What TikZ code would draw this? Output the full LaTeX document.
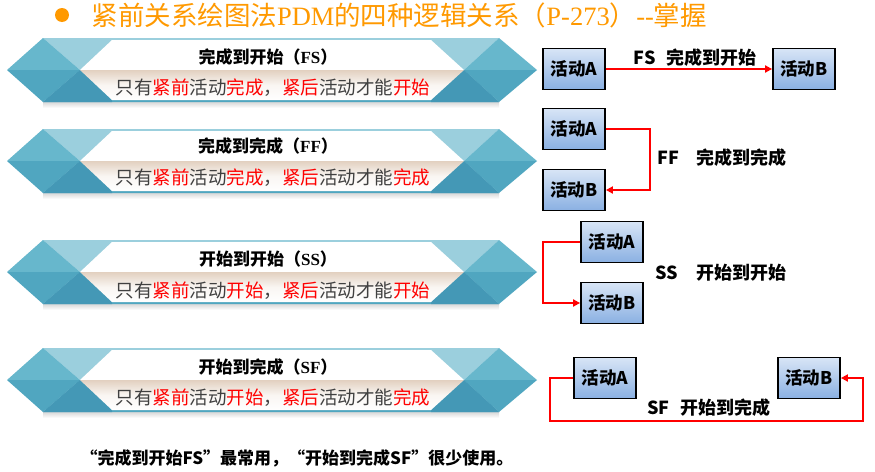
\documentclass[tikz,border=0pt]{standalone}
\usepackage{fontspec}
\setmainfont{Liberation Serif}
\newfontfamily\cjk{Noto Sans CJK SC}
\usetikzlibrary{arrows.meta}

\definecolor{arancio}{RGB}{255,153,0}
\definecolor{rosso}{RGB}{255,0,0}
\definecolor{grigiotesto}{RGB}{64,64,64}
\definecolor{bluchiaro}{RGB}{155,207,221}
\definecolor{blumedio}{RGB}{103,183,204}
\definecolor{bluscuro}{RGB}{80,166,192}
\definecolor{bluprofondo}{RGB}{68,152,182}
\definecolor{beige}{RGB}{226,208,192}
\definecolor{scatolasu}{RGB}{216,229,246}
\definecolor{scatolagiu}{RGB}{138,176,226}

\begin{document}
\begin{tikzpicture}[
			x=1pt, y=-1pt,
			freccia/.style={draw=rosso, line width=2.2pt,
				-{Triangle[length=7pt,width=7pt]}},
			scatola/.style={draw=black, line width=1.8pt,
				top color=scatolasu, bottom color=scatolagiu,
				minimum width=62pt, minimum height=41pt, inner sep=0pt,
				font=\cjk\bfseries\fontsize{17.5}{20}\selectfont},
			etichetta/.style={font=\cjk\bfseries\fontsize{18}{21}\selectfont},
			titolo/.style={font=\cjk\bfseries\fontsize{17}{19}\selectfont},
			sotto/.style={text=grigiotesto,
				font=\cjk\fontsize{18.5}{20}\selectfont},
			]
			\useasboundingbox (0,0) rectangle (875,471);
			
			%% intestazione
			\node[circle, fill=arancio, inner sep=0pt, minimum size=14pt] (punto) at (62,15){};
			\node[anchor=west, text=arancio, font=\cjk\fontsize{26.5}{29}\selectfont] (intesta) at (88,15)
			{紧前关系绘图法{\rmfamily PDM}的四种逻辑关系（{\rmfamily P-273}）{\rmfamily -{}-}掌握};
			
			%% fasce a sinistra
			\foreach \c in {70,161,272,380}{
				% ombra
				\shade[top color=gray!30, bottom color=white] (43,\c+32) rectangle (499,\c+38);
				% fondo
				\fill[bluchiaro] (43,\c-32) -- (499,\c-32) -- (464,\c) -- (80,\c) -- cycle;
				\fill[bluscuro] (80,\c) -- (464,\c) -- (499,\c+32) -- (43,\c+32) -- cycle;
				% punta sinistra
				\fill[blumedio] (7,\c) -- (43,\c-32) -- (80,\c) -- cycle;
				\fill[bluscuro] (7,\c) -- (80,\c) -- (43,\c+32) -- cycle;
				\fill[bluprofondo] (43,\c+32) -- (80,\c) -- (112,\c+30) -- (112,\c+32) -- cycle;
				% punta destra
				\fill[blumedio] (537,\c) -- (499,\c-32) -- (464,\c) -- cycle;
				\fill[bluscuro] (537,\c) -- (464,\c) -- (499,\c+32) -- cycle;
				\fill[bluprofondo] (499,\c+32) -- (464,\c) -- (431,\c+30) -- (431,\c+32) -- cycle;
				% interno
				\fill[white] (80,\c) -- (112,\c-30) -- (431,\c-30) -- (464,\c) -- cycle;
				\shade[top color=beige, bottom color=white, middle color=white!80!beige]
				(80,\c) -- (464,\c) -- (431,\c+30) -- (112,\c+30) -- cycle;
			}
			
			% testi delle fasce
			\node[titolo] (tfs) at (268,57){完成到开始（{\rmfamily FS}）};
			\node[sotto]  (sfs) at (273,88){只有\textcolor{rosso}{紧前}活动\textcolor{rosso}{完成}，\textcolor{rosso}{紧后}活动才能\textcolor{rosso}{开始}};
			\node[titolo] (tff) at (268,146){完成到完成（{\rmfamily FF}）};
			\node[sotto]  (sff) at (273,178){只有\textcolor{rosso}{紧前}活动\textcolor{rosso}{完成}，\textcolor{rosso}{紧后}活动才能\textcolor{rosso}{完成}};
			\node[titolo] (tss) at (268,259){开始到开始（{\rmfamily SS}）};
			\node[sotto]  (sss) at (273,291){只有\textcolor{rosso}{紧前}活动\textcolor{rosso}{开始}，\textcolor{rosso}{紧后}活动才能\textcolor{rosso}{开始}};
			\node[titolo] (tsf) at (268,367){开始到完成（{\rmfamily SF}）};
			\node[sotto]  (ssf) at (273,398){只有\textcolor{rosso}{紧前}活动\textcolor{rosso}{开始}，\textcolor{rosso}{紧后}活动才能\textcolor{rosso}{完成}};
			
			%% FS
			\node[scatola] (fsA) at (574,69){活动A};
			\node[scatola] (fsB) at (804,69){活动B};
			\draw[freccia] (fsA.east) -- (fsB.west);
			\node[etichetta] (lfs) at (695,58){FS\hspace{0.6em}完成到开始};
			
			%% FF
			\node[scatola] (ffA) at (574,129){活动A};
			\node[scatola] (ffB) at (574,190){活动B};
			\draw[freccia] (ffA.east) -- ++(44,0) |- (ffB.east);
			\node[etichetta] (lff) at (722,158){FF\hspace{1em}完成到完成};
			
			%% SS
			\node[scatola] (ssA) at (612,242){活动A};
			\node[scatola] (ssB) at (612,303){活动B};
			\draw[freccia] (ssA.west) -- ++(-37,0) |- (ssB.west);
			\node[etichetta] (lss) at (721,273){SS\hspace{1em}开始到开始};
			
			%% SF
			\node[scatola] (sfA) at (605,378){活动A};
			\node[scatola] (sfB) at (809,378){活动B};
			\coordinate (sfG1) at (550,421);
			\coordinate (sfG2) at (863,421);
			\draw[freccia] (sfA.west) -| (sfG1) -- (sfG2) |- (sfB.east);
			\node[etichetta] (lsf) at (709,408){SF\hspace{0.6em}开始到完成};
			
			%% nota
			\node[font=\cjk\bfseries\fontsize{17}{19}\selectfont] (nota) at (297,458)
			{“完成到开始FS”最常用，“开始到完成SF”很少使用。};
			
		\end{tikzpicture}
\end{document}
